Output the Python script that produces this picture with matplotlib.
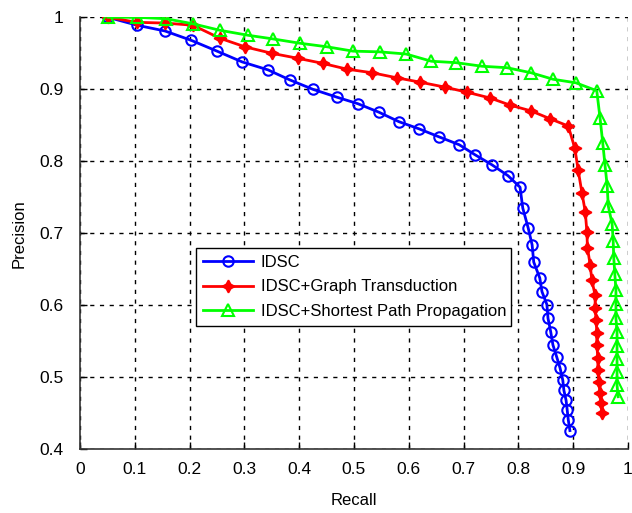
import matplotlib
matplotlib.use("Agg")
import matplotlib.pyplot as plt

plt.rcParams['font.family'] = ['Liberation Sans', 'DejaVu Sans']

idsc_recall = [0.051, 0.104, 0.155, 0.203, 0.250, 0.296, 0.343, 0.383, 0.425, 0.469,
               0.507, 0.546, 0.582, 0.619, 0.655, 0.692, 0.721, 0.752, 0.781, 0.803,
               0.808, 0.818, 0.825, 0.828, 0.839, 0.843, 0.852, 0.854, 0.859, 0.863,
               0.870, 0.876, 0.881, 0.883, 0.887, 0.889, 0.891, 0.894]
idsc_prec = [1.000, 0.989, 0.981, 0.968, 0.953, 0.938, 0.927, 0.913, 0.900, 0.889,
             0.880, 0.868, 0.855, 0.845, 0.834, 0.823, 0.809, 0.795, 0.780, 0.764,
             0.735, 0.707, 0.684, 0.660, 0.638, 0.619, 0.601, 0.582, 0.563, 0.545,
             0.528, 0.513, 0.496, 0.482, 0.468, 0.455, 0.441, 0.426]

gt_recall = [0.051, 0.104, 0.155, 0.206, 0.255, 0.301, 0.350, 0.398, 0.443, 0.487,
             0.533, 0.578, 0.620, 0.666, 0.706, 0.748, 0.785, 0.823, 0.858, 0.891,
             0.903, 0.909, 0.916, 0.922, 0.925, 0.926, 0.931, 0.934, 0.940, 0.940,
             0.942, 0.943, 0.943, 0.945, 0.945, 0.947, 0.949, 0.951, 0.953]
gt_prec = [1.000, 0.993, 0.992, 0.989, 0.971, 0.959, 0.950, 0.943, 0.936, 0.928,
           0.923, 0.916, 0.910, 0.903, 0.896, 0.888, 0.878, 0.870, 0.859, 0.849,
           0.818, 0.788, 0.756, 0.730, 0.702, 0.680, 0.656, 0.635, 0.614, 0.596,
           0.579, 0.562, 0.545, 0.527, 0.510, 0.493, 0.478, 0.464, 0.450]

sp_recall = [0.051, 0.104, 0.157, 0.206, 0.255, 0.307, 0.352, 0.401, 0.451, 0.498,
             0.547, 0.595, 0.641, 0.686, 0.734, 0.779, 0.823, 0.863, 0.905, 0.943,
             0.949, 0.954, 0.958, 0.962, 0.964, 0.971, 0.973, 0.974, 0.976, 0.978,
             0.978, 0.978, 0.980, 0.980, 0.980, 0.980, 0.980, 0.982]
sp_prec = [1.000, 1.000, 0.998, 0.991, 0.982, 0.975, 0.970, 0.964, 0.959, 0.953,
           0.952, 0.949, 0.939, 0.937, 0.932, 0.930, 0.923, 0.914, 0.909, 0.898,
           0.860, 0.825, 0.795, 0.766, 0.738, 0.713, 0.689, 0.666, 0.643, 0.621,
           0.602, 0.582, 0.563, 0.544, 0.525, 0.507, 0.489, 0.473]

labels = ['IDSC', 'IDSC+Graph Transduction', 'IDSC+Shortest Path Propagation']
x_ticks = [0, 0.1, 0.2, 0.3, 0.4, 0.5, 0.6, 0.7, 0.8, 0.9, 1]
x_ticklabels = ['0', '0.1', '0.2', '0.3', '0.4', '0.5', '0.6', '0.7', '0.8', '0.9', '1']
y_ticks = [0.4, 0.5, 0.6, 0.7, 0.8, 0.9, 1]
y_ticklabels = ['0.4', '0.5', '0.6', '0.7', '0.8', '0.9', '1']

fig = plt.figure(figsize=(6.32, 5.13), dpi=100)
ax = fig.add_axes([80/632, (513-449.3)/513, 548/632, 432/513])

ax.plot(idsc_recall, idsc_prec, color='#0000ff', lw=2, marker='o', ms=7.5,
        mfc='none', mec='#0000ff', mew=1.5, label=labels[0], zorder=3)
ax.plot(gt_recall, gt_prec, color='#ff0000', lw=2, marker=(4, 1, 0), ms=9,
        mfc='#ff0000', mec='#ff0000', mew=1.2, label=labels[1], zorder=3)
ax.plot(sp_recall, sp_prec, color='#00ff00', lw=2, marker='^', ms=8,
        mfc='none', mec='#00ff00', mew=1.5, label=labels[2], zorder=3)

ax.set_xlim(0, 1)
ax.set_ylim(0.4, 1)
ax.set_xticks(x_ticks)
ax.set_xticklabels(x_ticklabels)
ax.set_yticks(y_ticks)
ax.set_yticklabels(y_ticklabels)
ax.tick_params(direction='in', length=5, width=1, labelsize=12.5, pad=9)
ax.tick_params(axis='y', pad=12)
ax.grid(True, color='black', linestyle=(0, (3, 4)), linewidth=1)
ax.set_axisbelow(True)
for s in ['top', 'right']:
    ax.spines[s].set_visible(False)
for s in ['left', 'bottom']:
    ax.spines[s].set_linewidth(1.2)
    ax.spines[s].set_color('#333333')

ax.set_xlabel('Recall', fontsize=12, labelpad=12)
ax.set_ylabel('Precision', fontsize=12, labelpad=9)

leg = ax.legend(loc='lower left', bbox_to_anchor=(0.2117, 0.2854, 0.575, 0.183),
                mode='expand', fontsize=12, frameon=True, fancybox=False,
                edgecolor='black', framealpha=1, handlelength=3.0,
                borderaxespad=0, borderpad=0.42, labelspacing=0.58,
                handletextpad=0.45, markerscale=1.0)
leg.get_frame().set_linewidth(1.0)
leg.set_zorder(5)

fig.savefig('out.png', dpi=100)
